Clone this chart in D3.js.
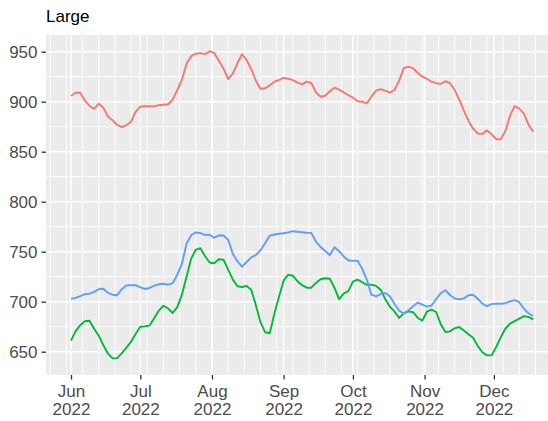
<!DOCTYPE html>
<html>
<head>
<meta charset="utf-8">
<script src="https://cdn.jsdelivr.net/npm/d3@7"></script>
<style>
  body { margin: 0; background: #fff; }
  svg { display: block; }
  text { font-family: "Liberation Sans", Arial, sans-serif; }
</style>
</head>
<body>
<div id="chart"></div>
<script>
// dates of the readings (every second day)
var dates = [
  "2022-06-01","2022-06-03","2022-06-05","2022-06-07","2022-06-09","2022-06-11","2022-06-13","2022-06-15",
  "2022-06-17","2022-06-19","2022-06-21","2022-06-23","2022-06-25","2022-06-27","2022-06-29",
  "2022-07-01","2022-07-03","2022-07-05","2022-07-07","2022-07-09","2022-07-11","2022-07-13","2022-07-15",
  "2022-07-17","2022-07-19","2022-07-21","2022-07-23","2022-07-25","2022-07-27","2022-07-29","2022-07-31",
  "2022-08-02","2022-08-04","2022-08-06","2022-08-08","2022-08-10","2022-08-12","2022-08-14","2022-08-16",
  "2022-08-18","2022-08-20","2022-08-22","2022-08-24","2022-08-26","2022-08-28","2022-08-30",
  "2022-09-01","2022-09-03","2022-09-05","2022-09-07","2022-09-09","2022-09-11","2022-09-13","2022-09-15",
  "2022-09-17","2022-09-19","2022-09-21","2022-09-23","2022-09-25","2022-09-27","2022-09-29",
  "2022-10-01","2022-10-03","2022-10-05","2022-10-07","2022-10-09","2022-10-11","2022-10-13","2022-10-15",
  "2022-10-17","2022-10-19","2022-10-21","2022-10-23","2022-10-25","2022-10-27","2022-10-29","2022-10-31",
  "2022-11-02","2022-11-04","2022-11-06","2022-11-08","2022-11-10","2022-11-12","2022-11-14","2022-11-16",
  "2022-11-18","2022-11-20","2022-11-22","2022-11-24","2022-11-26","2022-11-28","2022-11-30",
  "2022-12-02","2022-12-04","2022-12-06","2022-12-08","2022-12-10","2022-12-12","2022-12-14","2022-12-16",
  "2022-12-18"
];

var redValues = [
  906, 909, 909, 901, 896, 892.7, 898, 894, 885, 881.5, 876.7, 874.5, 876.5, 880, 890,
  895, 895.5, 895.5, 895.3, 896.5, 897, 897.5, 902, 911.7, 922, 938, 945.5, 948, 948.6, 947.5, 950.5,
  948.5, 941, 933, 922.5, 928, 938.4, 947.5, 941.7, 932.5, 921, 913, 913.5, 916.5, 920, 921.7,
  923.8, 923, 921.5, 919, 917.4, 920, 918.7, 909.5, 905, 906, 910.5, 914, 912, 909.5, 906.5,
  904, 900.5, 900, 898.4, 905, 911, 912.5, 911, 909, 912, 921, 933.5, 935, 933.5, 929, 925,
  923, 920, 918.5, 917.8, 920.5, 918.5, 912, 902, 891, 881, 873, 868.2, 867.8, 871.5, 867.3,
  862.5, 862.5, 871, 886, 895.5, 893, 888, 877, 870
];

var greenValues = [
  661, 670.5, 676.5, 680.5, 681, 673, 666, 656.5, 648, 643.3, 643.5, 648.5, 654, 660, 668,
  675, 675.3, 676.2, 683.5, 691, 696, 693.2, 688.7, 694.5, 707, 725, 743, 752, 753.5, 745.5, 739.2,
  738.5, 742.5, 742, 732, 722.3, 715.5, 714.7, 715.7, 712, 696.5, 679.5, 669.5, 668.5, 688, 705,
  721, 727, 726, 720.5, 716.5, 714, 714, 718.8, 722.5, 723.5, 723, 714, 702.5, 708, 710.5,
  720, 722, 719.5, 716.8, 717, 715.8, 712, 702.5, 695, 690, 683.8, 688.3, 690.3, 689.5, 684, 681,
  690, 692, 689.7, 677.5, 669.7, 670.3, 673.4, 674.7, 671.2, 667.5, 664, 655.8, 649.5, 646.3, 646.3,
  654.7, 664.5, 673.2, 678, 680.6, 683, 685.5, 684.8, 682.3
];

var blueValues = [
  703, 703.8, 705.5, 707.5, 708, 709.8, 712.5, 713, 708.8, 707, 706.5, 712.5, 716.3, 716.4, 716.5,
  714.4, 712.7, 713.7, 716, 717.4, 718, 717, 718.5, 727, 738, 758, 766.5, 769.3, 768.5, 766.8, 767,
  764, 766.3, 766.2, 762, 748, 740.5, 735, 739.7, 744.3, 746.7, 751.5, 758.5, 766, 767.2, 768,
  768.4, 769.3, 770.5, 770, 769.5, 769, 768.8, 760, 754.7, 750.8, 746.5, 754.5, 750.5, 745.3, 741.5,
  740.8, 741, 733, 722, 707, 705.4, 707.5, 708.7, 705.5, 697.7, 691, 688.3, 691.3, 695.5, 699, 697.2,
  695, 696.2, 702.5, 708.5, 711.5, 706.7, 703.3, 702.5, 703.3, 706.4, 707, 703, 698, 695.5, 697.6,
  698, 698, 698.5, 700.3, 701.6, 699.5, 693, 688.5, 685.7
];

var seriesColors = ["#F8766D", "#00BA38", "#619CFF"];
var yMajor = [650, 700, 750, 800, 850, 900, 950];
var yMinor = [675, 725, 775, 825, 875, 925];
var monthNames = ["Jan","Feb","Mar","Apr","May","Jun","Jul","Aug","Sep","Oct","Nov","Dec"];
var title = "Large";

// set the dimensions and margins of the panel
var margin = {top: 35, right: 0, bottom: 46, left: 46},
  width = 548 - margin.left - margin.right,
  height = 421 - margin.top - margin.bottom;

var svg = d3.select("#chart")
.append("svg")
  .attr("width", 548)
  .attr("height", 421);

var g = svg.append("g")
  .attr("transform", "translate(" + margin.left + "," + margin.top + ")");

var parse = d3.utcParse("%Y-%m-%d");
var days = dates.map(parse);

var x = d3.scaleUtc()
  .domain([new Date(Date.UTC(2022, 4, 21, 4, 20)), new Date(Date.UTC(2022, 11, 24, 10, 0))])
  .range([0, width]);

var y = d3.scaleLinear()
  .domain([626.7, 966.7])
  .range([height, 0]);

// panel background
g.append("rect")
  .attr("width", width)
  .attr("height", height)
  .attr("fill", "#EBEBEB");

var xMinor = d3.utcMonday.range(x.domain()[0], x.domain()[1]);
var xMajor = d3.utcMonth.range(d3.utcMonth.ceil(x.domain()[0]), x.domain()[1]);

// minor grid
g.selectAll(".vminor")
  .data(xMinor)
  .enter().append("line")
    .attr("x1", d => x(d)).attr("x2", d => x(d))
    .attr("y1", 0).attr("y2", height)
    .attr("stroke", "#fff").attr("stroke-width", 0.9);

g.selectAll(".hminor")
  .data(yMinor)
  .enter().append("line")
    .attr("x1", 0).attr("x2", width)
    .attr("y1", d => y(d)).attr("y2", d => y(d))
    .attr("stroke", "#fff").attr("stroke-width", 0.9);

// major grid
g.selectAll(".vmajor")
  .data(xMajor)
  .enter().append("line")
    .attr("x1", d => x(d)).attr("x2", d => x(d))
    .attr("y1", 0).attr("y2", height)
    .attr("stroke", "#fff").attr("stroke-width", 1.5);

g.selectAll(".hmajor")
  .data(yMajor)
  .enter().append("line")
    .attr("x1", 0).attr("x2", width)
    .attr("y1", d => y(d)).attr("y2", d => y(d))
    .attr("stroke", "#fff").attr("stroke-width", 1.5);

// lines
var line = d3.line()
  .x((d, i) => x(days[i]))
  .y(d => y(d));

[redValues, greenValues, blueValues].forEach(function(vals, k) {
  g.append("path")
    .datum(vals)
    .attr("fill", "none")
    .attr("stroke", seriesColors[k])
    .attr("stroke-width", 1.9)
    .attr("stroke-linejoin", "round")
    .attr("d", line);
});

// y axis
var yAxis = g.append("g")
  .call(d3.axisLeft(y).tickValues(yMajor).tickSize(4.5).tickPadding(4));
yAxis.select(".domain").remove();
yAxis.selectAll("line").attr("stroke", "#333333").attr("stroke-width", 1.3);
yAxis.selectAll("text")
  .attr("fill", "#4D4D4D")
  .style("font-size", "17px")
  .attr("dy", "0.36em");

// x axis
var xAxis = g.append("g")
  .attr("transform", "translate(0," + height + ")")
  .call(d3.axisBottom(x).tickValues(xMajor).tickSize(4.5).tickFormat(""));
xAxis.select(".domain").remove();
xAxis.selectAll("line").attr("stroke", "#333333").attr("stroke-width", 1.3);

var xLab = xAxis.selectAll(".tick")
  .append("text")
    .attr("fill", "#4D4D4D")
    .attr("text-anchor", "middle")
    .style("font-size", "17px");
xLab.append("tspan")
  .attr("x", 0).attr("y", 21.5)
  .text(d => monthNames[d.getUTCMonth()]);
xLab.append("tspan")
  .attr("x", 0).attr("y", 40)
  .text(d => d.getUTCFullYear());

// title
svg.append("text")
  .attr("x", margin.left)
  .attr("y", 21.7)
  .attr("fill", "#000")
  .style("font-size", "17px")
  .text(title);
</script>
</body>
</html>
